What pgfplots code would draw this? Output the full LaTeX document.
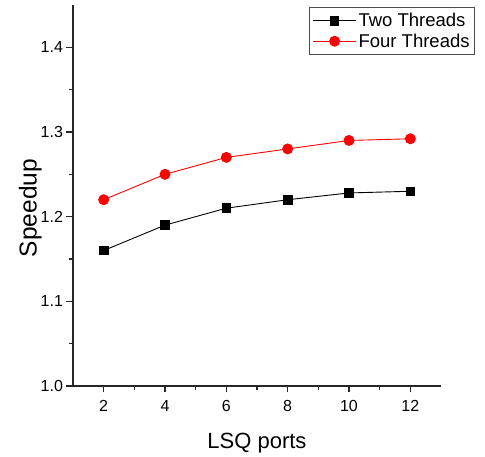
\documentclass[border=0pt]{standalone}
\usepackage{pgfplots}
\pgfplotsset{compat=1.18}
\usepackage{fontspec}
\setmainfont{Liberation Sans}
\begin{document}
\begin{tikzpicture}
\begin{axis}[
  scale only axis,
  width=368pt, height=381pt,
  xmin=1, xmax=13, ymin=1.0, ymax=1.45,
  axis x line*=bottom, axis y line*=left,
  axis line style={line width=1.5pt, black!85},
  xtick={2,4,...,12}, ytick={1.0,1.1,...,1.41},
  minor x tick num=1, minor y tick num=1,
  tick align=outside,
  major tick length=6.5pt, minor tick length=4pt,
  every tick/.style={line width=1.3pt, black!85},
  /pgf/number format/assume math mode=true,
  yticklabel style={/pgf/number format/fixed, /pgf/number format/fixed zerofill, /pgf/number format/precision=1, font=\fontsize{16}{18}\selectfont},
  xticklabel style={font=\fontsize{16}{18}\selectfont, yshift=-4pt},
  xlabel={LSQ ports},
  xlabel style={at={(rel axis cs:0.5,0)}, anchor=base, yshift=-63pt, font=\fontsize{22}{24}\selectfont},
  ylabel={Speedup},
  ylabel style={at={(rel axis cs:-0.0842,0.467)}, anchor=south, inner sep=0pt, font=\fontsize{24.5}{26}\selectfont},
  legend style={at={(1.0924,0.9948)}, anchor=north east, draw=black!70, line width=0.8pt,
    font=\fontsize{18.5}{20}\selectfont, row sep=1.5pt, inner xsep=3pt, inner ysep=4pt},
  legend cell align=left,
  legend image code/.code={\draw[mark repeat=2,mark phase=2,#1] plot coordinates {(0pt,0pt) (21.5pt,0pt) (43pt,0pt)};},
]
\addplot[black, line width=0.9pt, mark=square*, mark size=4.3pt, mark options={solid}]
  coordinates {(2,1.160) (4,1.190) (6,1.210) (8,1.220) (10,1.228) (12,1.230)};
\addlegendentry{Two Threads}
\addplot[red, line width=0.9pt, mark=*, mark size=5pt, mark options={solid}]
  coordinates {(2,1.220) (4,1.250) (6,1.270) (8,1.280) (10,1.290) (12,1.292)};
\addlegendentry{Four Threads}
\end{axis}
\path[use as bounding box] (-73pt,-70pt) rectangle (412pt,386pt);
\end{tikzpicture}
\end{document}
